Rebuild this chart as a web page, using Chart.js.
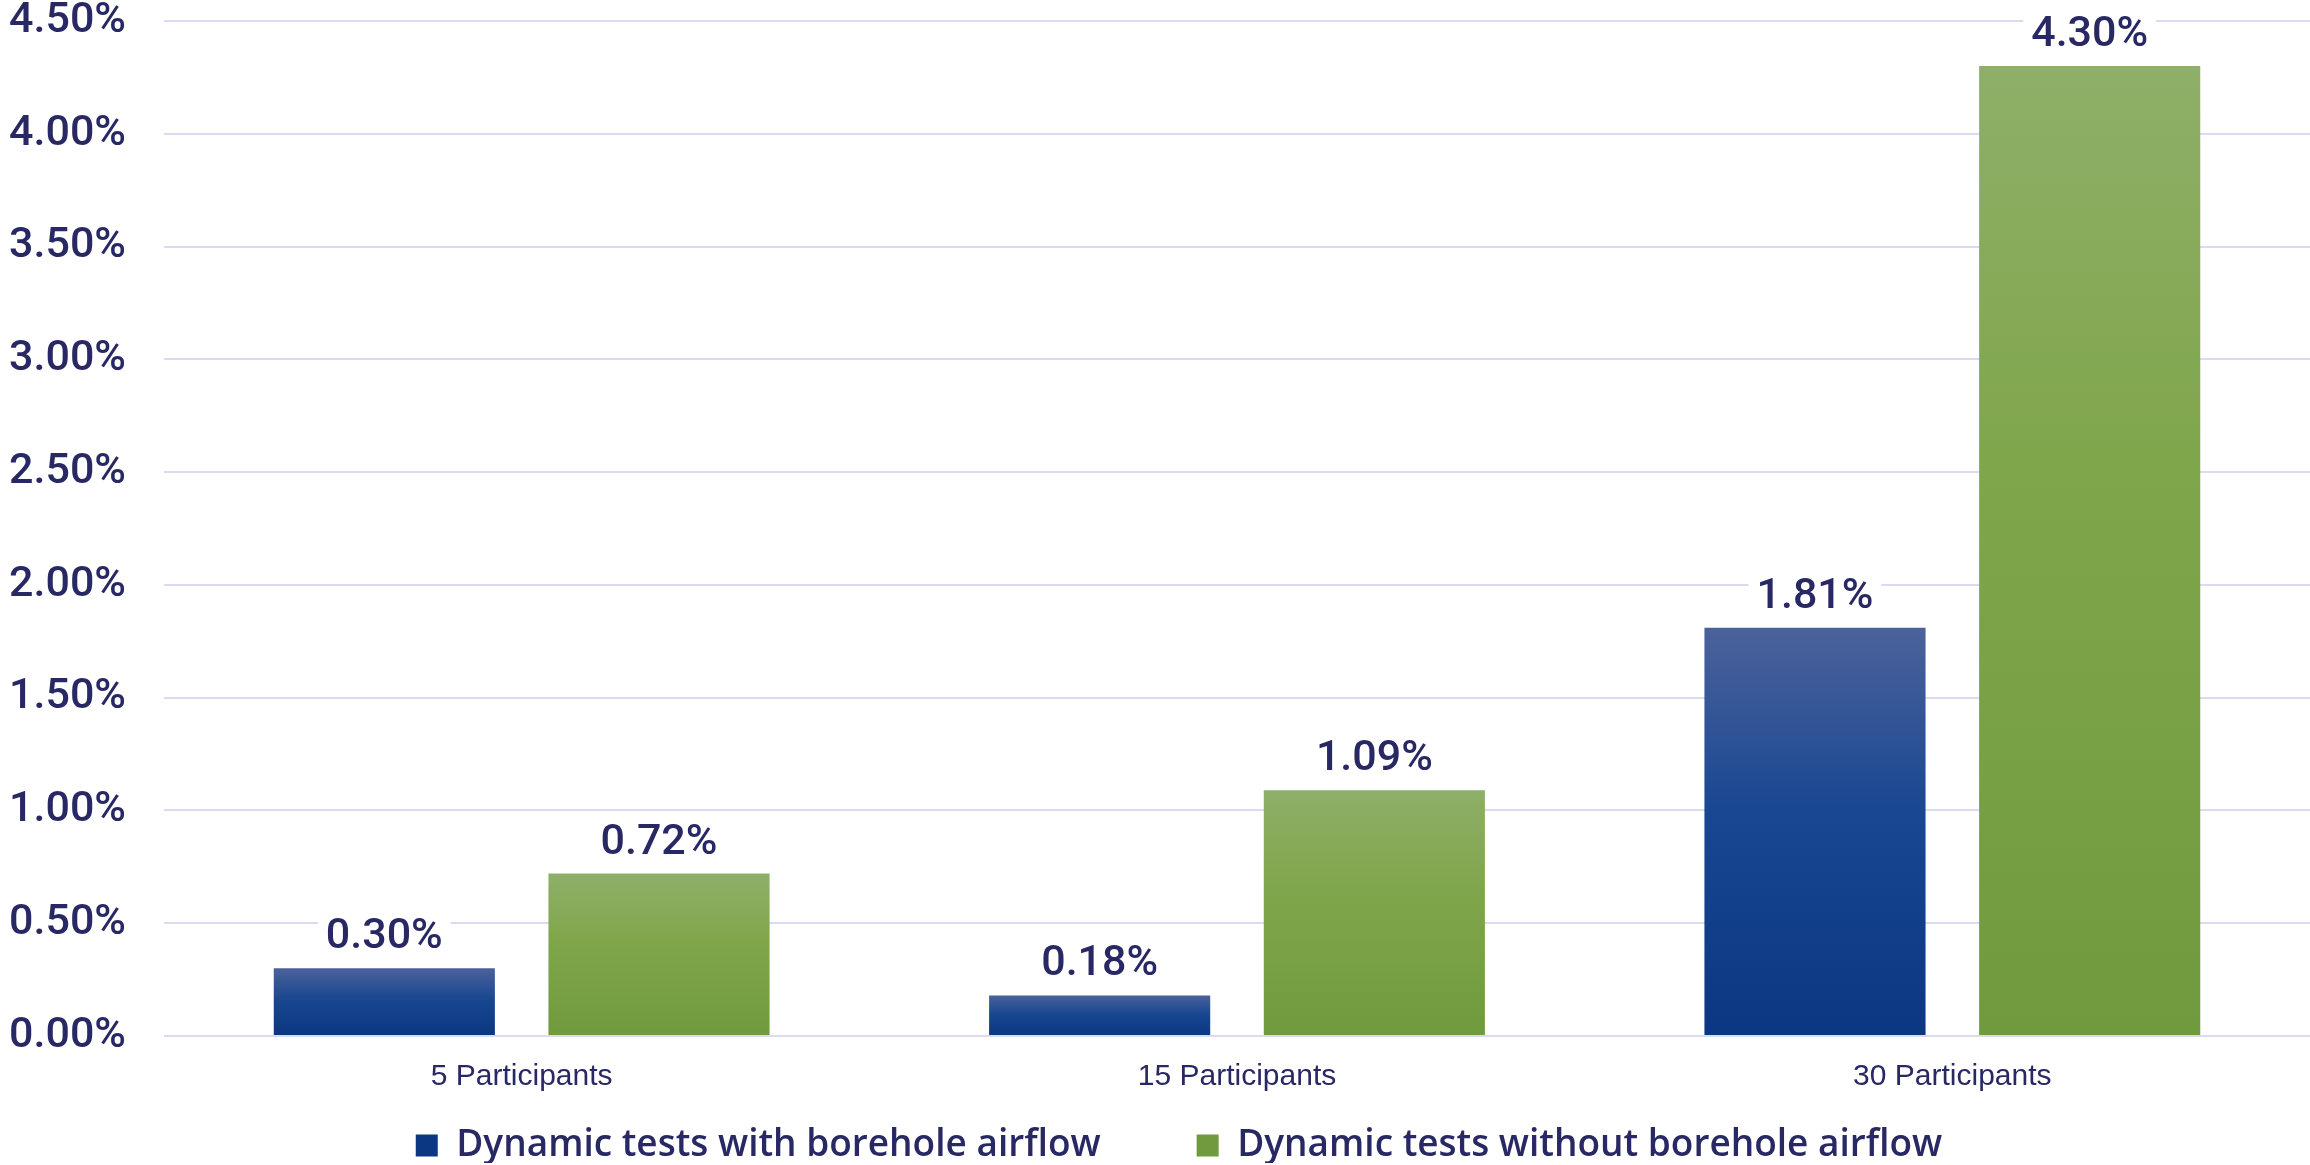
<!DOCTYPE html>
<html>
<head>
<meta charset="utf-8">
<script src="https://cdn.jsdelivr.net/npm/chart.js@4/dist/chart.umd.min.js"></script>
<style>
  html, body { margin: 0; padding: 0; background: #ffffff; }
  #wrap { width: 2310px; height: 1165px; position: relative; }
</style>
</head>
<body>
<div id="wrap"><canvas id="c"></canvas></div>
<script>
const categories = ['5 Participants', '15 Participants', '30 Participants'];
const seriesNames = ['Dynamic tests with borehole airflow', 'Dynamic tests without borehole airflow'];
const withAirflow = [0.30, 0.18, 1.81];
const withoutAirflow = [0.72, 1.09, 4.30];
const yMin = 0, yMax = 4.5, yStep = 0.5;

const FONT = '"Liberation Sans", Arial, sans-serif';
const NUMFONT = 'Roboto, "Liberation Sans", Arial, sans-serif';
const LEGFONT = '"Open Sans", "DejaVu Sans", sans-serif';
const TEXT = '#282864';
const GRID = '#dadaf0';
const blueStops = [[0, '#4b629b'], [0.45, '#194791'], [1, '#0b3682']];
const greenStops = [[0, '#8eaf68'], [0.4, '#80a64c'], [1, '#709a3e']];

function grad(stops, solid) {
  return (c) => {
    const chart = c.chart;
    if (c.type !== 'data' || !chart.chartArea || !chart.scales.y) return solid;
    const y = chart.scales.y;
    const top = y.getPixelForValue(c.raw);
    const bot = y.getPixelForValue(0);
    if (!isFinite(top) || !isFinite(bot) || top === bot) return solid;
    const g = chart.ctx.createLinearGradient(0, top, 0, bot);
    stops.forEach(([o, col]) => g.addColorStop(o, col));
    return g;
  };
}

const fmt = (v) => v.toFixed(2) + '%';

const LEGEND_PAD = 96;
const LEGEND_HEIGHT = 69;
const LEGEND_DX = 19;
const LEGEND_DY = -11;
const legendGap = {
  id: 'legendGap',
  beforeLayout(chart) {
    const lg = chart.legend;
    if (!lg || lg._gapPatched) return;
    const fit = lg.fit;
    lg.fit = function () { fit.call(this); this._shift = this.height - LEGEND_HEIGHT; this.height = LEGEND_HEIGHT; };
    const d = lg._draw;
    lg._draw = function (...a) {
      const c = this.ctx; c.save(); c.translate(LEGEND_DX, -(this._shift || 0) - LEGEND_DY); d.apply(this, a); c.restore();
    };
    lg._gapPatched = true;
  }
};

const valueLabels = {
  id: 'valueLabels',
  afterDatasetsDraw(chart) {
    const ctx = chart.ctx;
    ctx.save();
    ctx.font = '500 43px ' + NUMFONT;
    ctx.textAlign = 'center';
    ctx.textBaseline = 'alphabetic';
    chart.data.datasets.forEach((ds, di) => {
      const meta = chart.getDatasetMeta(di);
      meta.data.forEach((bar, i) => {
        const txt = fmt(ds.data[i]);
        const w = ctx.measureText(txt).width;
        const base = bar.y - 20;
        ctx.fillStyle = '#ffffff';
        ctx.fillRect(bar.x - w / 2 - 8, base - 38, w + 16, 46);
        ctx.fillStyle = TEXT;
        ctx.fillText(txt, bar.x, base);
      });
    });
    ctx.restore();
  }
};

new Chart(document.getElementById('c'), {
  type: 'bar',
  data: {
    labels: categories,
    datasets: [
      { label: seriesNames[0], data: withAirflow, backgroundColor: grad(blueStops, '#1d4891'), borderWidth: 0 },
      { label: seriesNames[1], data: withoutAirflow, backgroundColor: grad(greenStops, '#80a64c'), borderWidth: 0 }
    ]
  },
  options: {
    responsive: true,
    maintainAspectRatio: false,
    animation: false,
    layout: { padding: { left: 10, right: 0, top: 21, bottom: 2 } },
    datasets: { bar: { categoryPercentage: 0.768, barPercentage: 0.805 } },
    scales: {
      x: {
        grid: { display: false, drawTicks: false },
        border: { display: false },
        ticks: { color: TEXT, font: { family: FONT, size: 30 }, padding: 23 },
        afterFit: (s) => { s.height = 58; s.paddingLeft = 0; s.paddingRight = 0; }
      },
      y: {
        min: yMin, max: yMax,
        grid: { color: GRID, lineWidth: 2, drawTicks: false },
        border: { display: false },
        ticks: {
          stepSize: yStep, color: TEXT, padding: 38,
          font: { family: NUMFONT, size: 43, weight: '500', lineHeight: 1 },
          callback: (v) => fmt(v)
        },
        afterFit: (s) => { s.width = 154; s.paddingTop = 0; s.paddingBottom = 0; }
      }
    },
    plugins: {
      legend: {
        position: 'bottom',
        labels: { color: TEXT, font: { family: LEGFONT, size: 37, weight: '600' }, boxWidth: 22, boxHeight: 22, padding: LEGEND_PAD }
      },
      tooltip: { enabled: false }
    }
  },
  plugins: [legendGap, valueLabels]
});
</script>
</body>
</html>
